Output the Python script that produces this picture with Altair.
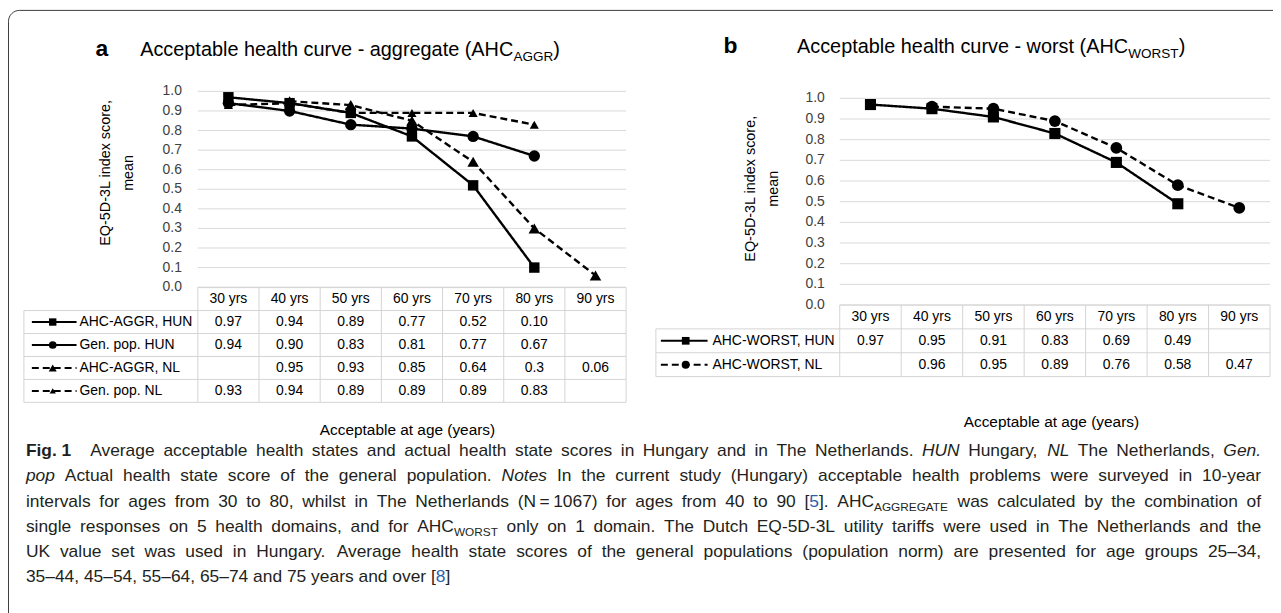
import altair as alt
import pandas as pd

# ---------------- data ----------------
ages = ["30 yrs", "40 yrs", "50 yrs", "60 yrs", "70 yrs", "80 yrs", "90 yrs"]
y_tick_labels = ["0.0", "0.1", "0.2", "0.3", "0.4", "0.5", "0.6", "0.7", "0.8", "0.9", "1.0"]

series_a = ["AHC-AGGR, HUN", "Gen. pop. HUN", "AHC-AGGR, NL", "Gen. pop. NL"]
ahc_aggr_hun = ["0.97", "0.94", "0.89", "0.77", "0.52", "0.10", ""]
gen_pop_hun = ["0.94", "0.90", "0.83", "0.81", "0.77", "0.67", ""]
ahc_aggr_nl = ["", "0.95", "0.93", "0.85", "0.64", "0.3", "0.06"]
gen_pop_nl = ["0.93", "0.94", "0.89", "0.89", "0.89", "0.83", ""]

series_b = ["AHC-WORST, HUN", "AHC-WORST, NL"]
ahc_worst_hun = ["0.97", "0.95", "0.91", "0.83", "0.69", "0.49", ""]
ahc_worst_nl = ["", "0.96", "0.95", "0.89", "0.76", "0.58", "0.47"]

x_axis_title = "Acceptable at age (years)"
y_axis_title = ["EQ-5D-3L index score,", "mean"]
title_a = [("Acceptable health curve - aggregate (AHC", "n"), ("AGGR", "sub"), (")", "n")]
title_b = [("Acceptable health curve - worst (AHC", "n"), ("WORST", "sub"), (")", "n")]

caption_lines = [
    [("Fig.\u00a01\u2002", "b"), (" Average acceptable health states and actual health state scores in Hungary and in The Netherlands. ", "n"),
     ("HUN", "i"), (" Hungary, ", "n"), ("NL", "i"), (" The Netherlands, ", "n"), ("Gen.", "i")],
    [("pop", "i"), (" Actual health state score of the general population. ", "n"), ("Notes", "i"),
     (" In the current study (Hungary) acceptable health problems were surveyed in 10-year", "n")],
    [("intervals for ages from 30 to 80, whilst in The Netherlands (N\u2009=\u20091067) for ages from 40 to 90 [", "n"),
     ("5", "link"), ("]. AHC", "n"), ("AGGREGATE", "sub"), (" was calculated by the combination of", "n")],
    [("single responses on 5 health domains, and for AHC", "n"), ("WORST", "sub"),
     (" only on 1 domain. The Dutch EQ-5D-3L utility tariffs were used in The Netherlands and the", "n")],
    [("UK value set was used in Hungary. Average health state scores of the general populations (population norm) are presented for age groups 25\u201334,", "n")],
    [("35\u201344, 45\u201354, 55\u201364, 65\u201374 and 75 years and over [", "n"), ("8", "link"), ("]", "n")],
]

# ---------------- layout & style ----------------
OX, OY = 8, 8          # page margin
W, H = 1273, 605
FONT = "Liberation Sans"
INK = "#000000"
GRID = "#d9d9d9"
TABLE = "#d4d4d4"
TICK = "#404040"
CAP_INK = "#231f20"
LINK = "#2a5db0"
SOLID = [1, 0]
DASHED = [7, 4]


def sx(v):
    return v - OX


def sy(v):
    return v - OY


styles = {
    "AHC-AGGR, HUN": dict(dash=SOLID, shape="square", size=110, lsize=55),
    "Gen. pop. HUN": dict(dash=SOLID, shape="circle", size=130, lsize=60),
    "AHC-AGGR, NL": dict(dash=DASHED, shape="triangle-up", size=135, lsize=65),
    "Gen. pop. NL": dict(dash=DASHED, shape="triangle-up", size=85, lsize=40),
    "AHC-WORST, HUN": dict(dash=SOLID, shape="square", size=125, lsize=60),
    "AHC-WORST, NL": dict(dash=DASHED, shape="circle", size=140, lsize=65),
}

PA = dict(left=199, right=630, y0=287, y1=90, leg_left=24, head=299, step=23.1,
          sample=(32, 77), marker=53, text_x=80, tick_r=183, yt1=107, yt2=130, yt_y=172,
          xt_x=410, xt_y=431, letter_x=96, title_x=141, title_y=47)
PB = dict(left=845, right=1278, y0=305, y1=97, leg_left=660, head=317, step=24,
          sample=(665, 712), marker=690, text_x=717, tick_r=830, yt1=756, yt2=779, yt_y=188,
          xt_x=1058, xt_y=423, letter_x=728, title_x=802, title_y=44)

# Arial / Liberation Sans advance widths (1/1000 em)
ARIAL = {" ": 278, "\u00a0": 278, "\u2002": 500, "\u2009": 200, ",": 278, ".": 278, "-": 333, "(": 333, ")": 333,
         "[": 278, "]": 278, "=": 584, ":": 278, "\u2013": 556}
for c in "0123456789":
    ARIAL[c] = 556
for c, w in zip("ABCDEFGHIJKLMNOPQRSTUVWXYZ",
                [667, 667, 722, 722, 667, 611, 778, 722, 278, 500, 667, 556, 833, 722, 778, 667, 778, 722, 667, 611,
                 722, 667, 944, 667, 667, 611]):
    ARIAL[c] = w
for c, w in zip("abcdefghijklmnopqrstuvwxyz",
                [556, 556, 500, 556, 556, 278, 556, 556, 222, 222, 500, 222, 833, 556, 556, 556, 556, 333, 500, 278,
                 556, 500, 722, 500, 500, 500]):
    ARIAL[c] = w


def text_width(s, size, bold=False):
    w = sum(ARIAL.get(c, 556) for c in s) / 1000.0 * size
    return w * (1.07 if bold else 1.0)


def run_width(text, style, size):
    if style == "sub":
        return text_width(text, size * 0.68)
    return text_width(text, size, style == "b")


def series_frame(names, columns):
    rows = []
    for r, (name, col) in enumerate(zip(names, columns), start=1):
        for i, lab in enumerate(col):
            if lab != "":
                rows.append({"series": name, "row": r, "xi": i + 0.5, "v": float(lab), "label": lab,
                             "msize": styles[name]["size"]})
    return pd.DataFrame(rows)


ONE = pd.DataFrame({"d": [0]})


def run_layers(runs, x0, base_y, size, weight="normal"):
    """Text runs with subscripts laid out from measured advance widths."""
    out = []
    x = x0
    for text, st in runs:
        fs = size * 0.68 if st == "sub" else size
        dy = size * 0.26 if st == "sub" else 0
        out.append(alt.Chart(ONE).mark_text(text=text, font=FONT, fontSize=fs, color=INK, align="left",
                                            baseline="alphabetic", fontWeight=weight).encode(
            x=alt.value(sx(x)), y=alt.value(sy(base_y + dy))))
        x += run_width(text, st, size)
    return out


def panel(P, names, columns, letter, title_runs):
    L = []
    n = len(names)
    xs = alt.Scale(domain=[0, 7], range=[sx(P["left"]), sx(P["right"])], zero=False, nice=False)
    ys = alt.Scale(domain=[0, 1], range=[sy(P["y0"]), sy(P["y1"])], zero=False, nice=False)
    rs = alt.Scale(domain=[0, n], range=[sy(P["head"]), sy(P["head"] + n * P["step"])], zero=False, nice=False)
    dash_sc = alt.Scale(domain=names, range=[styles[s]["dash"] for s in names])
    shape_sc = alt.Scale(domain=names, range=[styles[s]["shape"] for s in names])
    df = series_frame(names, columns)
    top = P["head"] - P["step"] / 2
    bottom = P["head"] + (n + 0.5) * P["step"]

    # gridlines and tick labels
    gdf = pd.DataFrame({"v": [float(t) for t in y_tick_labels], "t": y_tick_labels})
    L.append(alt.Chart(gdf).mark_rule(color=GRID, strokeWidth=1).encode(
        y=alt.Y("v:Q", scale=ys, axis=None), x=alt.value(sx(P["left"])), x2=alt.value(sx(P["right"]))))
    L.append(alt.Chart(gdf).mark_text(font=FONT, fontSize=14, color=TICK, align="right", baseline="middle").encode(
        y=alt.Y("v:Q", scale=ys, axis=None), x=alt.value(sx(P["tick_r"])), text="t:N"))

    # data table grid
    kdf = pd.DataFrame({"k": list(range(8))})
    L.append(alt.Chart(kdf).mark_rule(color=TABLE, strokeWidth=1).encode(
        x=alt.X("k:Q", scale=xs, axis=None), y=alt.value(sy(top)), y2=alt.value(sy(bottom))))
    L.append(alt.Chart(pd.DataFrame({"b": [0.5]})).mark_rule(color=TABLE, strokeWidth=1).encode(
        x=alt.value(sx(P["leg_left"])), y=alt.Y("b:Q", scale=rs, axis=None), y2=alt.value(sy(bottom))))
    L.append(alt.Chart(pd.DataFrame({"b": [j + 0.5 for j in range(n + 1)]})).mark_rule(
        color=TABLE, strokeWidth=1).encode(
        y=alt.Y("b:Q", scale=rs, axis=None), x=alt.value(sx(P["leg_left"])), x2=alt.value(sx(P["right"]))))
    L.append(alt.Chart(pd.DataFrame({"b": [-0.5]})).mark_rule(color=TABLE, strokeWidth=1).encode(
        y=alt.Y("b:Q", scale=rs, axis=None), x=alt.value(sx(P["left"])), x2=alt.value(sx(P["right"]))))

    # lines and markers
    L.append(alt.Chart(df).mark_line(color=INK, strokeWidth=2.4).encode(
        x=alt.X("xi:Q", scale=xs, axis=None), y=alt.Y("v:Q", scale=ys, axis=None),
        strokeDash=alt.StrokeDash("series:N", scale=dash_sc, legend=None), detail="series:N", order="xi:Q"))
    L.append(alt.Chart(df).mark_point(filled=True, color=INK, opacity=1, strokeWidth=0).encode(
        x=alt.X("xi:Q", scale=xs, axis=None), y=alt.Y("v:Q", scale=ys, axis=None),
        shape=alt.Shape("series:N", scale=shape_sc, legend=None),
        size=alt.Size("msize:Q", scale=None, legend=None)))

    # table contents
    L.append(alt.Chart(df).mark_text(font=FONT, fontSize=14, color=INK, baseline="middle").encode(
        x=alt.X("xi:Q", scale=xs, axis=None), y=alt.Y("row:Q", scale=rs, axis=None), text="label:N"))
    hdf = pd.DataFrame({"xi": [i + 0.5 for i in range(len(ages))], "row": 0, "age": ages})
    L.append(alt.Chart(hdf).mark_text(font=FONT, fontSize=14, color=INK, baseline="middle").encode(
        x=alt.X("xi:Q", scale=xs, axis=None), y=alt.Y("row:Q", scale=rs, axis=None), text="age:N"))

    # legend keys inside the table
    ldf = pd.DataFrame({"series": names, "row": list(range(1, n + 1)),
                        "lsize": [styles[s]["lsize"] for s in names]})
    L.append(alt.Chart(ldf).mark_text(font=FONT, fontSize=14, color=INK, align="left", baseline="middle").encode(
        x=alt.value(sx(P["text_x"])), y=alt.Y("row:Q", scale=rs, axis=None), text="series:N"))
    L.append(alt.Chart(ldf).mark_rule(color=INK, strokeWidth=2).encode(
        x=alt.value(sx(P["sample"][0])), x2=alt.value(sx(P["sample"][1])),
        y=alt.Y("row:Q", scale=rs, axis=None),
        strokeDash=alt.StrokeDash("series:N", scale=dash_sc, legend=None)))
    L.append(alt.Chart(ldf).mark_point(filled=True, color=INK, opacity=1, strokeWidth=0).encode(
        x=alt.value(sx(P["marker"])), y=alt.Y("row:Q", scale=rs, axis=None),
        shape=alt.Shape("series:N", scale=shape_sc, legend=None),
        size=alt.Size("lsize:Q", scale=None, legend=None)))

    # axis titles
    for line, xx in zip(y_axis_title, [P["yt1"], P["yt2"]]):
        L.append(alt.Chart(ONE).mark_text(text=line, font=FONT, fontSize=14.5, color=INK, angle=270,
                                          align="center", baseline="middle").encode(
            x=alt.value(sx(xx)), y=alt.value(sy(P["yt_y"]))))
    L.append(alt.Chart(ONE).mark_text(text=x_axis_title, font=FONT, fontSize=15.5, color=INK,
                                      align="center", baseline="middle").encode(
        x=alt.value(sx(P["xt_x"])), y=alt.value(sy(P["xt_y"]))))

    # panel letter and title
    L.append(alt.Chart(ONE).mark_text(text=letter, font=FONT, fontSize=23, fontWeight="bold", color=INK,
                                      align="left", baseline="alphabetic").encode(
        x=alt.value(sx(P["letter_x"])), y=alt.value(sy(P["title_y"] + 7))))
    L += run_layers(title_runs, P["title_x"], P["title_y"] + 7, 20)
    return L


# ---------------- caption (justified, laid out from font metrics) ----------------
def words_of(runs):
    words = [[]]
    for text, st in runs:
        parts = text.split(" ")
        for j, p in enumerate(parts):
            if j > 0:
                words.append([])
            if p:
                words[-1].append((p, st))
    return [w for w in words if w]


CAP_LEFT, CAP_RIGHT = 26, 1269
CAP_BASE, CAP_STEP = 457, 25.4
cap_words = [words_of(r) for r in caption_lines]
nat = []
for ws in cap_words[:-1]:
    em = sum(run_width(t, s, 1.0) for w in ws for t, s in w) + (len(ws) - 1) * 0.278
    nat.append((CAP_RIGHT - CAP_LEFT) / em)
CAP_SIZE = min(17.5, min(nat) * 0.995)

cap_rows = []
for li, ws in enumerate(cap_words):
    widths = [sum(run_width(t, s, CAP_SIZE) for t, s in w) for w in ws]
    if li < len(cap_words) - 1 and len(ws) > 1:
        gap = ((CAP_RIGHT - CAP_LEFT) - sum(widths)) / (len(ws) - 1)
    else:
        gap = 0.278 * CAP_SIZE
    x = CAP_LEFT
    base = CAP_BASE + li * CAP_STEP
    for w, wd in zip(ws, widths):
        xx = x
        for t, s in w:
            cap_rows.append({"x": sx(xx), "y": sy(base + (CAP_SIZE * 0.26 if s == "sub" else 0)),
                             "text": t, "style": s})
            xx += run_width(t, s, CAP_SIZE)
        x += wd + gap
cap_df = pd.DataFrame(cap_rows)


def cap_layer(style, **kw):
    sub = cap_df[cap_df["style"] == style]
    return alt.Chart(sub).mark_text(font=FONT, align="left", baseline="alphabetic", **kw).encode(
        x=alt.X("x:Q", scale=None, axis=None), y=alt.Y("y:Q", scale=None, axis=None), text="text:N")


caption = [
    cap_layer("n", fontSize=CAP_SIZE, color=CAP_INK),
    cap_layer("b", fontSize=CAP_SIZE, color=CAP_INK, fontWeight="bold"),
    cap_layer("i", fontSize=CAP_SIZE, color=CAP_INK, fontStyle="italic"),
    cap_layer("sub", fontSize=CAP_SIZE * 0.68, color=CAP_INK),
    cap_layer("link", fontSize=CAP_SIZE, color=LINK),
]

border = alt.Chart(ONE).mark_rect(fillOpacity=0, stroke="#3c3c3c", strokeWidth=1, cornerRadius=11).encode(
    x=alt.value(0.5), y=alt.value(0.5), x2=alt.value(W + 30), y2=alt.value(H + 30))

layers = [border]
layers += panel(PA, series_a, [ahc_aggr_hun, gen_pop_hun, ahc_aggr_nl, gen_pop_nl], "a", title_a)
layers += panel(PB, series_b, [ahc_worst_hun, ahc_worst_nl], "b", title_b)
layers += caption

chart = alt.layer(*layers).resolve_scale(
    x="independent", y="independent", strokeDash="independent", shape="independent", size="independent"
).properties(
    width=W, height=H, autosize=alt.AutoSizeParams(type="none"), padding=0, background="white"
).configure_view(strokeWidth=0)

chart.save("out.html", embed_options={"renderer": "svg", "actions": False})
